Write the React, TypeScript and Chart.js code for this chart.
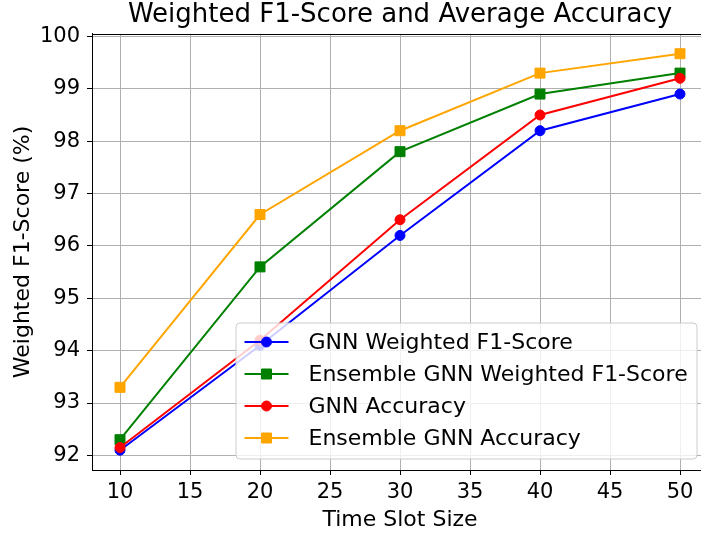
import React, { useEffect, useRef } from "react";
import { Chart, registerables } from "chart.js";

Chart.register(...registerables);

// Time slot sizes on the x axis
const slotSizes = [10, 20, 30, 40, 50];

// Scores in percent, one array per series
const gnnF1 = [92.1, 94.1, 96.2, 98.2, 98.9];
const ensembleF1 = [92.3, 95.6, 97.8, 98.9, 99.3];
const gnnAccuracy = [92.15, 94.2, 96.5, 98.5, 99.2];
const ensembleAccuracy = [93.3, 96.6, 98.2, 99.3, 99.67];

// Tick values
const xTicks = [10, 15, 20, 25, 30, 35, 40, 45, 50];
const yTicks = [92, 93, 94, 95, 96, 97, 98, 99, 100];

const seriesNames = [
  "GNN Weighted F1-Score",
  "Ensemble GNN Weighted F1-Score",
  "GNN Accuracy",
  "Ensemble GNN Accuracy",
];

const FONT = "'DejaVu Sans', sans-serif";

type SeriesStyle = { color: string; marker: "circle" | "rect" };
const styles: SeriesStyle[] = [
  { color: "#0000ff", marker: "circle" },
  { color: "#008000", marker: "rect" },
  { color: "#ff0000", marker: "circle" },
  { color: "#ffa500", marker: "rect" },
];

function padRange(values: number[], frac: number) {
  const lo = Math.min(...values);
  const hi = Math.max(...values);
  const m = (hi - lo) * frac;
  return { min: lo - m, max: hi + m };
}

function drawMarker(ctx: CanvasRenderingContext2D, kind: string, x: number, y: number, color: string) {
  ctx.save();
  ctx.fillStyle = color;
  ctx.strokeStyle = color;
  ctx.lineWidth = 1;
  ctx.beginPath();
  if (kind === "circle") {
    ctx.arc(x, y, 5, 0, Math.PI * 2);
  } else {
    ctx.rect(x - 5, y - 5, 10, 10);
  }
  ctx.fill();
  ctx.stroke();
  ctx.restore();
}

// Black frame around the plotting area
const framePlugin = {
  id: "frame",
  afterDatasetsDraw(chart: any) {
    const { ctx, chartArea: a } = chart;
    ctx.save();
    ctx.strokeStyle = "#000";
    ctx.lineWidth = 1;
    ctx.strokeRect(Math.round(a.left) + 0.5, Math.round(a.top) + 0.5, Math.round(a.right - a.left), Math.round(a.bottom - a.top));
    ctx.restore();
  },
};

// Legend box in the lower right corner of the plotting area
const innerLegend = {
  id: "innerLegend",
  afterDraw(chart: any) {
    const { ctx, chartArea: a } = chart;
    const fs = 22;
    const pad = 11;
    const w = 461;
    const h = 136;
    const right = a.right - pad;
    const bottom = a.bottom - pad;
    const left = right - w;
    const top = bottom - h;
    ctx.save();
    ctx.beginPath();
    const r = 4;
    ctx.moveTo(left + r, top);
    ctx.arcTo(right, top, right, bottom, r);
    ctx.arcTo(right, bottom, left, bottom, r);
    ctx.arcTo(left, bottom, left, top, r);
    ctx.arcTo(left, top, right, top, r);
    ctx.closePath();
    ctx.fillStyle = "rgba(255,255,255,0.8)";
    ctx.fill();
    ctx.strokeStyle = "#cccccc";
    ctx.lineWidth = 1;
    ctx.stroke();

    ctx.font = `${fs}px ${FONT}`;
    ctx.textBaseline = "middle";
    ctx.textAlign = "left";
    seriesNames.forEach((name, i) => {
      const st = styles[i];
      const cy = top + 19 + i * 32;
      const x0 = left + 8.5;
      const x1 = x0 + 44;
      ctx.strokeStyle = st.color;
      ctx.lineWidth = 2;
      ctx.beginPath();
      ctx.moveTo(x0, cy);
      ctx.lineTo(x1, cy);
      ctx.stroke();
      drawMarker(ctx, st.marker, (x0 + x1) / 2, cy, st.color);
      ctx.fillStyle = "#000";
      ctx.fillText(name, x1 + 20, cy + 1.5);
    });
    ctx.restore();
  },
};

export default function App() {
  const canvasRef = useRef<HTMLCanvasElement | null>(null);

  useEffect(() => {
    const canvas = canvasRef.current;
    if (!canvas) return;
    const all = [...gnnF1, ...ensembleF1, ...gnnAccuracy, ...ensembleAccuracy];
    const yr = padRange(all, 0.05);
    const xr = padRange(slotSizes, 0.05);
    const series = [gnnF1, ensembleF1, gnnAccuracy, ensembleAccuracy];

    const chart = new Chart(canvas, {
      type: "line",
      data: {
        datasets: series.map((vals, i) => ({
          label: seriesNames[i],
          data: slotSizes.map((x, k) => ({ x, y: vals[k] })),
          borderColor: styles[i].color,
          backgroundColor: styles[i].color,
          pointBackgroundColor: styles[i].color,
          pointBorderColor: styles[i].color,
          borderWidth: 2,
          pointStyle: styles[i].marker,
          pointRadius: styles[i].marker === "circle" ? 5 : 7.07,
          pointBorderWidth: 1,
          tension: 0,
          fill: false,
          order: 4 - i,
          clip: false,
        })),
      },
      options: {
        animation: false,
        responsive: false,
        devicePixelRatio: 1,
        layout: { padding: { left: 0, right: 12, top: 0, bottom: 0 } },
        plugins: {
          legend: { display: false },
          tooltip: { enabled: false },
          title: {
            display: true,
            text: "Weighted F1-Score and Average Accuracy",
            fullSize: false,
            color: "#000",
            font: { family: FONT, size: 26, weight: "normal", lineHeight: 1.15 },
            padding: { top: 0, bottom: 4 },
          },
        },
        scales: {
          x: {
            type: "linear",
            min: xr.min,
            max: xr.max,
            afterBuildTicks: (s: any) => {
              s.ticks = xTicks.map((v) => ({ value: v }));
            },
            afterFit: (s: any) => {
              s.height = 63;
            },
            ticks: {
              color: "#000",
              font: { family: FONT, size: 21 },
              padding: 5,
              maxRotation: 0,
              autoSkip: false,
            },
            grid: {
              color: "#b0b0b0",
              lineWidth: 1,
              tickLength: 5,
              tickColor: "#000",
              tickWidth: 1,
            },
            border: { display: true, color: "#000", width: 1 },
            title: {
              display: true,
              text: "Time Slot Size",
              color: "#000",
              font: { family: FONT, size: 22 },
              padding: { top: 0, bottom: 0 },
            },
          },
          y: {
            type: "linear",
            min: yr.min,
            max: yr.max,
            afterBuildTicks: (s: any) => {
              s.ticks = yTicks.map((v) => ({ value: v }));
            },
            afterFit: (s: any) => {
              s.width = 92;
            },
            ticks: {
              color: "#000",
              font: { family: FONT, size: 21 },
              padding: 7,
              autoSkip: false,
            },
            grid: {
              color: "#b0b0b0",
              lineWidth: 1,
              tickLength: 5,
              tickColor: "#000",
              tickWidth: 1,
            },
            border: { display: true, color: "#000", width: 1 },
            title: {
              display: true,
              text: "Weighted F1-Score (%)",
              color: "#000",
              font: { family: FONT, size: 22 },
              padding: { top: 10, bottom: 0 },
            },
          },
        },
      },
      plugins: [framePlugin, innerLegend],
    } as any);

    return () => chart.destroy();
  }, []);

  return (
    <div style={{ position: "absolute", left: 0, top: 0, width: 701, height: 533, overflow: "hidden", background: "#fff" }}>
      <canvas ref={canvasRef} width={720} height={533} style={{ display: "block" }} />
    </div>
  );
}
